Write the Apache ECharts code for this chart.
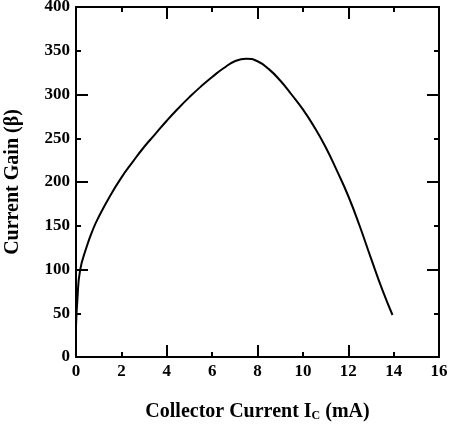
<!DOCTYPE html>
<html>
<head>
<meta charset="utf-8">
<script src="https://cdn.jsdelivr.net/npm/echarts@6/dist/echarts.min.js"></script>
<style>
  html, body { margin: 0; padding: 0; background: #fff; }
  #main { width: 452px; height: 435px; }
</style>
</head>
<body>
<div id="main"></div>
<script>
// collector current (mA) and current gain
var icValues = [0, 0.06, 0.18, 0.47, 0.75, 1.0, 1.5, 2.0, 2.5, 3.0, 3.5, 4.0, 4.5, 5.0, 5.5, 6.0, 6.5, 7.0, 7.5, 8.0, 8.5, 9.0, 9.5, 10.0, 10.5, 11.0, 11.5, 12.0, 12.5, 13.0, 13.5, 13.95];
var betaValues = [35, 65, 99, 126, 146, 160, 184, 205, 223, 240, 255, 270, 284, 297, 309, 320, 330, 338, 341, 338, 329, 316, 300, 283, 263, 240, 213, 184, 150, 113, 77, 48];

var xTicks = {min: 0, max: 16, minor: 2, major: 4};
var yTicks = {min: 0, max: 400, minor: 50, major: 100};

var font = 'Liberation Serif';
var black = '#000';

var points = icValues.map(function (x, i) { return [x, betaValues[i]]; });

function xAx(pos, step, len, labels) {
  return {
    type: 'value', position: pos, min: xTicks.min, max: xTicks.max, interval: step,
    axisLine: {show: len < 10, onZero: false, lineStyle: {color: black, width: 2}},
    axisTick: {show: true, inside: true, length: len, lineStyle: {color: black, width: 2}},
    axisLabel: {show: labels, margin: 6, color: black, fontFamily: font, fontWeight: 'bold', fontSize: 17},
    splitLine: {show: false}
  };
}
function yAx(pos, step, len, labels) {
  return {
    type: 'value', position: pos, min: yTicks.min, max: yTicks.max, interval: step,
    axisLine: {show: len < 10, onZero: false, lineStyle: {color: black, width: 2}},
    axisTick: {show: true, inside: true, length: len, lineStyle: {color: black, width: 2}},
    axisLabel: {show: labels, margin: 6, color: black, fontFamily: font, fontWeight: 'bold', fontSize: 17},
    splitLine: {show: false}
  };
}

var xAxes = [xAx('bottom', xTicks.minor, 5, true), xAx('bottom', xTicks.major, 12, false),
             xAx('top', xTicks.minor, 5, false), xAx('top', xTicks.major, 12, false)];
xAxes[0].name = 'Collector Current I{sub|C} (mA)';
xAxes[0].nameLocation = 'middle';
xAxes[0].nameGap = 45;
xAxes[0].nameTextStyle = {color: black, fontFamily: font, fontWeight: 'bold', fontSize: 20,
  rich: {sub: {fontFamily: font, fontWeight: 'bold', fontSize: 12, padding: [7, 0, 0, 0]}}};

var yAxes = [yAx('left', yTicks.minor, 5, true), yAx('left', yTicks.major, 12, false),
             yAx('right', yTicks.minor, 5, false), yAx('right', yTicks.major, 12, false)];
yAxes[0].name = 'Current Gain (β)';
yAxes[0].nameLocation = 'middle';
yAxes[0].nameGap = 53;
yAxes[0].nameTextStyle = {color: black, fontFamily: font, fontWeight: 'bold', fontSize: 20};

var chart = echarts.init(document.getElementById('main'));
chart.setOption({
  animation: false,
  grid: {left: 76, right: 13, top: 7, bottom: 78, outerBoundsMode: 'none', containLabel: false},
  xAxis: xAxes,
  yAxis: yAxes,
  series: [{
    type: 'line', xAxisIndex: 0, yAxisIndex: 0,
    data: points, smooth: true, showSymbol: false,
    lineStyle: {color: black, width: 2}
  }]
});
</script>
</body>
</html>
